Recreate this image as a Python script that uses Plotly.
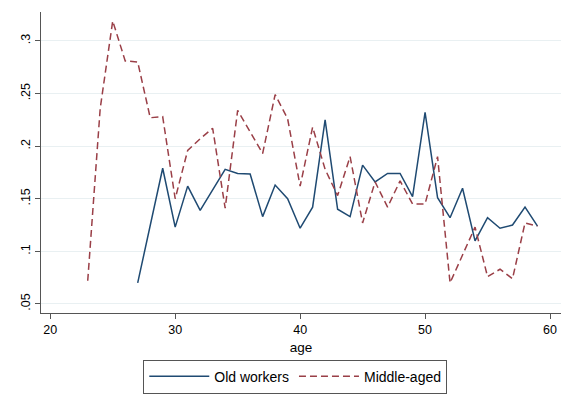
import plotly.graph_objects as go

# Ages and shares by group
old_age = list(range(27, 60))
old_share = [0.070, 0.125, 0.179, 0.123, 0.162, 0.139, 0.158, 0.178, 0.174, 0.1735,
             0.133, 0.163, 0.150, 0.122, 0.142, 0.225, 0.140, 0.133, 0.182, 0.166,
             0.174, 0.174, 0.152, 0.232, 0.151, 0.132, 0.160, 0.110, 0.132, 0.122,
             0.125, 0.142, 0.124]

mid_age = list(range(23, 60))
mid_share = [0.072, 0.236, 0.319, 0.281, 0.280, 0.227, 0.228, 0.150, 0.196, 0.207,
             0.217, 0.141, 0.234, 0.214, 0.193, 0.249, 0.226, 0.162, 0.218, 0.178,
             0.153, 0.190, 0.127, 0.166, 0.142, 0.167, 0.145, 0.145, 0.190, 0.070,
             0.096, 0.123, 0.076, 0.083, 0.074, 0.127, 0.124]

y_ticks = [0.05, 0.10, 0.15, 0.20, 0.25, 0.30]
y_labels = [".05", ".1", ".15", ".2", ".25", ".3"]
x_ticks = [20, 30, 40, 50, 60]

NAVY = "#1f4a72"
MAROON = "#9a3f47"
FONT = "Liberation Sans, Arial, Helvetica, sans-serif"

fig = go.Figure()
fig.add_trace(go.Scatter(x=old_age, y=old_share, mode="lines", name="Old workers",
                         line=dict(color=NAVY, width=1.5)))
fig.add_trace(go.Scatter(x=mid_age, y=mid_share, mode="lines", name="Middle-aged",
                         line=dict(color=MAROON, width=1.5, dash="7px,4px")))

fig.update_layout(
    width=561, height=394,
    margin=dict(l=41, r=0, t=12, b=73),
    paper_bgcolor="white", plot_bgcolor="white",
    font=dict(family=FONT, size=12, color="#000"),
    showlegend=True,
    legend=dict(orientation="h", x=0.489, xanchor="center", y=-0.155, yanchor="top",
                bordercolor="#555", borderwidth=1, bgcolor="white",
                font=dict(family=FONT, size=14, color="#000"),
                itemwidth=60, tracegroupgap=0),
)
fig.update_xaxes(
    range=[19.26, 60.88], tickvals=x_ticks, ticks="outside", ticklen=5,
    tickcolor="#555", showline=True, linecolor="#555", linewidth=1,
    showgrid=False, zeroline=False,
    tickfont=dict(family=FONT, size=12.5, color="#000"),
    title=dict(text="age", font=dict(family=FONT, size=13.5, color="#000"), standoff=6),
)
fig.update_yaxes(
    range=[0.0414, 0.3275], tickvals=y_ticks, ticktext=y_labels, tickangle=-90,
    ticks="outside", ticklen=5, tickcolor="#555", showline=True, linecolor="#555",
    linewidth=1, showgrid=True, gridcolor="#e9f0f2", gridwidth=1, zeroline=False,
    tickfont=dict(family=FONT, size=12.5, color="#000"),
)

fig.write_html("out.html")
